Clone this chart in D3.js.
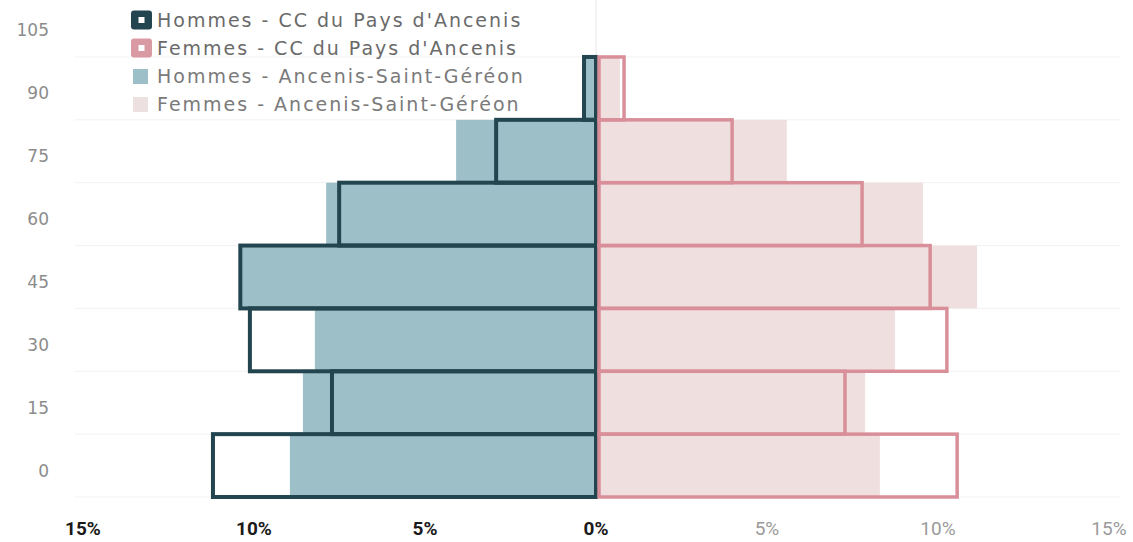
<!DOCTYPE html>
<html><head><meta charset="utf-8">
<script src="https://cdn.jsdelivr.net/npm/d3@7"></script>
<style>html,body{margin:0;padding:0;background:#fff;}svg{display:block;}</style>
</head><body>
<svg id="chart" width="1133" height="542"></svg>
<script>
// ---- data ----
const ages = [0, 15, 30, 45, 60, 75, 90];
const yTickLabels = ["0", "15", "30", "45", "60", "75", "90", "105"];
const hommesCC  = [11.2, 7.72, 10.12, 10.4, 7.51, 2.92, 0.35];
const femmesCC  = [10.56, 7.28, 10.26, 9.77, 7.78, 3.98, 0.82];
const hommesASG = [8.95, 8.57, 8.22, 10.35, 7.89, 4.09, 0.3];
const femmesASG = [8.3, 7.87, 8.74, 11.14, 9.56, 5.58, 0.7];
const xTicks = [-15, -10, -5, 0, 5, 10, 15];
const legendLabels = [
  "Hommes - CC du Pays d'Ancenis",
  "Femmes - CC du Pays d'Ancenis",
  "Hommes - Ancenis-Saint-Géréon",
  "Femmes - Ancenis-Saint-Géréon"
];

const svg = d3.select("#chart");
const x = d3.scaleLinear().domain([-15, 15]).range([83, 1109]);
const y = d3.scaleBand().domain(yTickLabels.slice().reverse()).range([-5.9, 497]).padding(0);
const bw = y.bandwidth();

const C = {
  dark: "#22454f", teal: "#9dbfc8", pink: "#d98f99", lpink: "#f0dfdf",
  grid: "#f2f2f2"
};

// faint gridlines at band boundaries
const bounds = yTickLabels.slice(0, 8).map(a => y(a) + bw);
svg.append("g").selectAll("line").data(bounds).join("line")
  .attr("x1", 75).attr("x2", 1120)
  .attr("y1", d => d).attr("y2", d => d)
  .attr("stroke", C.grid).attr("stroke-width", 1);
svg.append("line").attr("x1", x(0)).attr("x2", x(0)).attr("y1", 0).attr("y2", 497)
  .attr("stroke", "#e6e6e6").attr("stroke-width", 1);

const rows = ages.map((a, i) => ({age: String(a), hCC: hommesCC[i], fCC: femmesCC[i], hA: hommesASG[i], fA: femmesASG[i]}));

// Ancenis-Saint-Géréon fills
svg.append("g").selectAll("rect").data(rows).join("rect")
  .attr("x", d => x(-d.hA)).attr("width", d => x(0) - x(-d.hA))
  .attr("y", d => y(d.age)).attr("height", bw)
  .attr("fill", C.teal);
svg.append("g").selectAll("rect").data(rows).join("rect")
  .attr("x", x(0) + 1).attr("width", d => x(d.fA) - x(0) - 1)
  .attr("y", d => y(d.age)).attr("height", bw)
  .attr("fill", C.lpink);

// CC outlines
svg.append("g").selectAll("rect").data(rows).join("rect")
  .attr("x", d => x(-d.hCC)).attr("width", d => x(0) - x(-d.hCC))
  .attr("y", d => y(d.age)).attr("height", bw)
  .attr("fill", "none").attr("stroke", C.dark).attr("stroke-width", 4);
svg.append("g").selectAll("rect").data(rows).join("rect")
  .attr("x", x(0) + 3).attr("width", d => x(d.fCC) - x(0) - 3)
  .attr("y", d => y(d.age)).attr("height", bw)
  .attr("fill", "none").attr("stroke", C.pink).attr("stroke-width", 3.5);

// Y axis labels
svg.append("g").selectAll("text").data(yTickLabels).join("text")
  .attr("x", 49).attr("y", d => y(d) + bw / 2 + 5)
  .attr("dy", "0.35em").attr("text-anchor", "end")
  .attr("font-family", "'DejaVu Sans', sans-serif").attr("font-size", 17)
  .attr("fill", "#8c8c8c").text(d => d);

// X axis labels
svg.append("g").selectAll("text").data(xTicks).join("text")
  .attr("x", d => x(d)).attr("y", 535)
  .attr("text-anchor", "middle")
  .attr("font-family", "Roboto, 'Liberation Sans', sans-serif")
  .attr("font-size", 19)
  .attr("font-weight", d => d <= 0 ? 700 : 400)
  .attr("fill", d => d <= 0 ? "#1a1a1a" : "#9a9a9a")
  .text(d => Math.abs(d) + "%");

// Legend
const lg = svg.append("g");
const legendRows = [
  {type: "outline", color: C.dark, cy: 20},
  {type: "outline", color: "#d99aa3", cy: 48},
  {type: "fill", color: C.teal, cy: 76},
  {type: "fill", color: "#ece0e0", cy: 104}
];
legendRows.forEach((r, i) => {
  if (r.type === "outline") {
    lg.append("rect").attr("x", 131).attr("y", r.cy - 9.5).attr("width", 21).attr("height", 19)
      .attr("rx", 3).attr("fill", r.color);
    lg.append("rect").attr("x", 138.5).attr("y", r.cy - 3).attr("width", 6).attr("height", 6)
      .attr("fill", "#fff");
  } else {
    lg.append("rect").attr("x", 133).attr("y", r.cy - 7).attr("width", 15).attr("height", 15)
      .attr("fill", r.color);
  }
  lg.append("text").attr("x", 157).attr("y", r.cy).attr("dy", "0.35em")
    .attr("font-family", "'DejaVu Sans', sans-serif").attr("font-size", 19)
    .attr("letter-spacing", 2.0)
    .attr("fill", i < 2 ? "#6a6a6a" : "#7a7a7a")
    .text(legendLabels[i]);
});
</script>
</body></html>
